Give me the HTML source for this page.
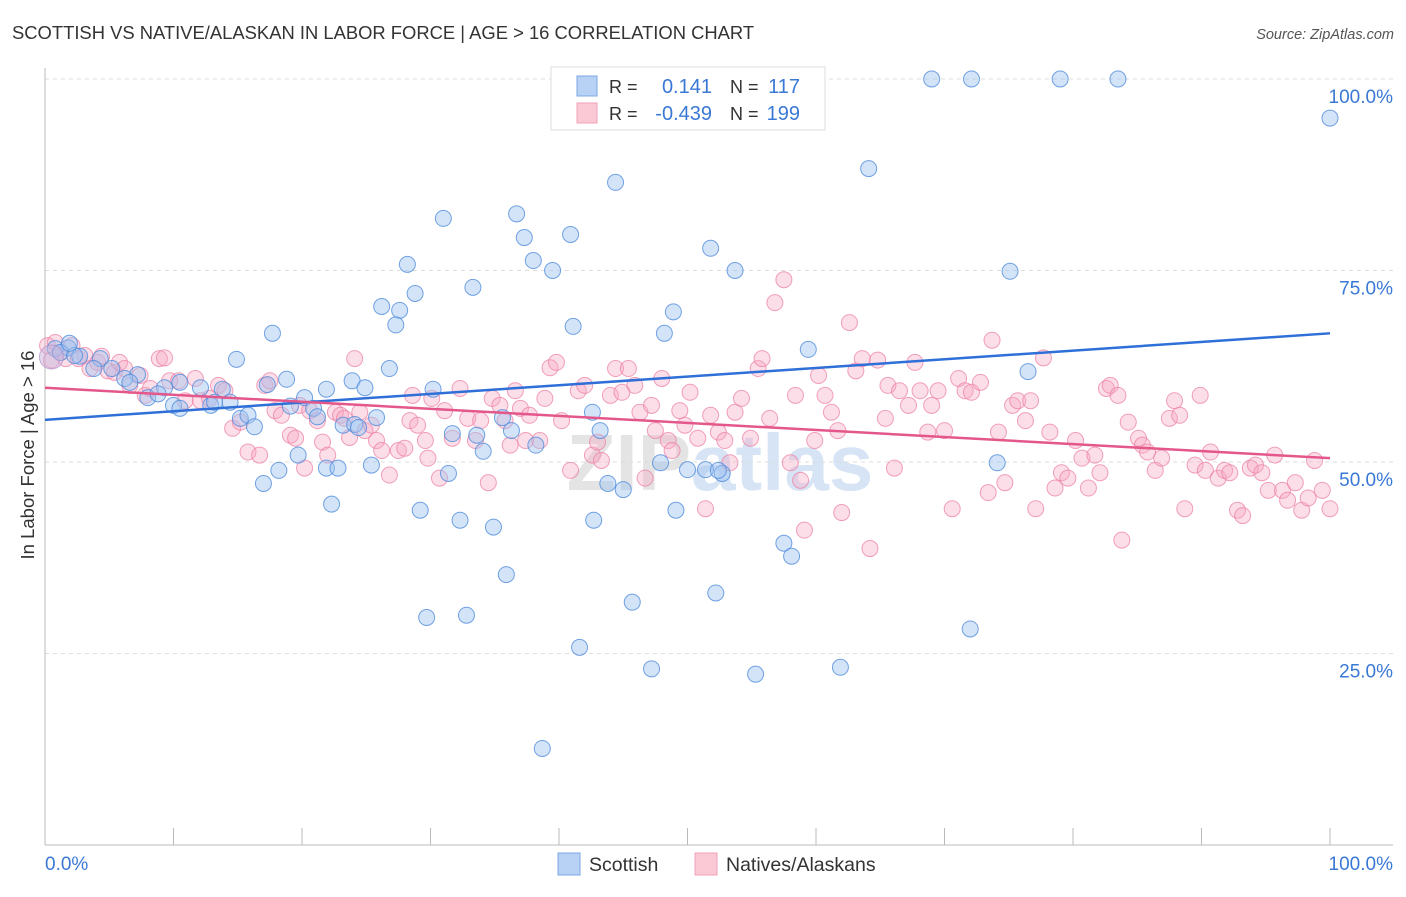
<!DOCTYPE html>
<html><head><meta charset="utf-8"><style>
body{margin:0;background:#fff;}
svg text{font-family:"Liberation Sans",sans-serif;}
</style></head><body>
<svg id="chart" width="1406" height="892" xmlns="http://www.w3.org/2000/svg">
<text x="12" y="39" font-size="18.4" fill="#333">SCOTTISH VS NATIVE/ALASKAN IN LABOR FORCE | AGE &gt; 16 CORRELATION CHART</text>
<text x="1394" y="39" font-size="14.5" fill="#555" font-style="italic" text-anchor="end">Source: ZipAtlas.com</text>
<text x="720" y="490" font-size="80" fill="#e4e4e4" text-anchor="middle" font-weight="bold">ZIP<tspan fill="#d6e4f5">atlas</tspan></text>
<g id="grid"></g>
<g id="axes"></g>
<g id="pts"></g>
<g id="trends"></g>
<text transform="translate(34,455) rotate(-90)" font-size="18.5" fill="#333" text-anchor="middle">In Labor Force | Age &gt; 16</text>
<g>
<rect x="551" y="67" width="274" height="63" fill="#fff" stroke="#ddd"/>
<rect x="577" y="76" width="20" height="20" fill="#b8d2f5" stroke="#7aa7e3"/>
<rect x="577" y="103" width="20" height="20" fill="#fbc8d6" stroke="#f0a3ba"/>
<text x="609" y="93" font-size="18" fill="#333">R =</text>
<text x="712" y="93" font-size="20" fill="#3a78d6" text-anchor="end">0.141</text>
<text x="730" y="93" font-size="18" fill="#333">N =</text>
<text x="800" y="93" font-size="20" fill="#3a78d6" text-anchor="end">117</text>
<text x="609" y="120" font-size="18" fill="#333">R =</text>
<text x="712" y="120" font-size="20" fill="#3a78d6" text-anchor="end">-0.439</text>
<text x="730" y="120" font-size="18" fill="#333">N =</text>
<text x="800" y="120" font-size="20" fill="#3a78d6" text-anchor="end">199</text>
</g>
<g>
<rect x="558" y="853" width="22" height="22" fill="#b8d2f5" stroke="#7aa7e3"/>
<text x="589" y="871" font-size="19.5" fill="#333">Scottish</text>
<rect x="695" y="853" width="22" height="22" fill="#fbc8d6" stroke="#f0a3ba"/>
<text x="726" y="871" font-size="19.5" fill="#333">Natives/Alaskans</text>
</g>
<text x="45" y="870" font-size="19" fill="#3a78d6">0.0%</text>
<text x="1393" y="870" font-size="19" fill="#3a78d6" text-anchor="end">100.0%</text>
</svg>
<script>
const yTicks=[100,75,50,25];
const yTickLabels=["100.0%","75.0%","50.0%","25.0%"];
const blueX=[45.4,58.8,69.0,72.1,79.0,83.5,100,64.1,44.4,31.0,36.7,40.9,37.3,51.8,38.0,39.5,28.2,53.7,75.1,33.3,28.8,26.2,27.6,27.3,48.9,41.1,48.2,17.7,59.4,14.9,76.5,26.8,23.9,18.8,17.3,24.9,21.9,30.2,20.2,12.1,13.8,9.3,10.5,7.2,6.2,6.6,4.3,5.2,3.8,1.8,0.8,2.7,1.2,2.3,1.9,8.0,8.8,10.0,10.5,12.9,13.2,15.2,15.8,16.3,14.4,19.1,20.9,21.2,23.2,24.1,25.8,24.4,31.7,33.6,35.6,36.3,38.2,34.1,42.6,43.2,21.9,19.7,18.2,17.0,22.8,25.4,31.4,29.2,32.3,34.9,22.3,42.7,43.8,45.0,47.9,50.0,51.4,52.7,49.1,52.4,74.1,57.5,58.1,35.9,29.7,32.8,45.7,52.2,41.6,47.2,55.3,61.9,72.0,38.7];
const blueY=[100,100,100,100,100,100,94.9,88.3,86.5,81.8,82.4,79.7,79.3,77.9,76.3,75.0,75.8,75.0,74.9,72.8,72.0,70.3,69.8,67.9,69.6,67.7,66.8,66.8,64.7,63.4,61.8,62.2,60.6,60.8,60.1,59.7,59.5,59.5,58.4,59.7,59.5,59.7,60.4,61.4,60.9,60.4,63.5,62.2,62.2,64.9,64.8,63.8,64.3,63.9,65.5,58.4,58.9,57.4,57.0,57.4,57.8,55.7,56.1,54.6,57.8,57.3,57.0,55.9,54.8,54.9,55.8,54.5,53.7,53.5,55.8,54.1,52.2,51.4,56.5,54.1,49.2,50.9,48.9,47.2,49.2,49.6,48.5,43.7,42.4,41.5,44.5,42.4,47.2,46.4,49.9,49.0,49.0,48.5,43.7,48.9,49.9,39.4,37.7,35.3,29.7,30.0,31.7,32.9,25.8,23.0,22.3,23.2,28.2,12.6];
const pinkX=[0.2,0.5,0.8,1.2,1.6,2.1,2.6,3.1,3.5,4.1,4.4,4.9,5.4,5.8,6.2,6.6,7.4,7.8,8.2,8.9,9.3,9.7,10.4,10.9,11.7,12.1,12.8,13.5,14.0,14.6,15.2,15.8,16.7,17.1,17.5,17.9,18.4,19.1,19.5,19.8,20.2,20.6,21.2,21.6,22.0,22.6,23.0,23.3,23.7,24.1,24.5,24.9,25.4,25.8,26.2,26.8,27.5,28.0,28.4,28.6,29.0,29.6,29.8,30.1,30.7,31.1,31.7,32.3,32.9,33.5,33.9,34.5,34.8,35.4,35.8,36.2,36.6,37.0,37.4,37.7,38.5,38.9,39.3,39.8,40.2,40.9,41.5,42.0,42.6,43.0,43.3,44.0,44.4,44.9,45.4,45.9,46.3,46.7,47.2,47.5,48.0,48.5,48.8,49.4,49.8,50.2,50.8,51.4,51.8,52.4,52.9,53.3,53.7,54.2,54.9,55.5,55.8,56.4,56.8,57.5,58.0,58.4,58.8,59.1,59.9,60.2,60.7,61.2,61.7,62.0,62.6,63.1,63.6,64.2,64.8,65.4,65.6,66.1,66.5,67.2,67.7,68.1,68.7,69.0,69.5,70.0,70.6,71.1,71.6,72.1,72.8,73.4,73.7,74.2,74.7,75.3,75.7,76.3,76.7,77.1,77.7,78.2,78.6,79.1,79.6,80.2,80.7,81.2,81.7,82.1,82.6,82.9,83.5,83.8,84.3,85.1,85.4,85.8,86.4,86.9,87.5,87.9,88.3,88.7,89.5,89.9,90.3,90.7,91.3,91.8,92.2,92.8,93.2,93.8,94.2,94.7,95.2,95.7,96.3,96.7,97.3,97.8,98.3,98.8,99.4,100];
const pinkY=[65.2,63.3,65.6,64.3,63.5,65.2,63.5,63.9,62.2,63.0,63.8,61.9,61.7,63.0,62.2,60.0,61.3,58.7,59.6,63.5,63.6,60.6,60.6,58.0,60.9,58.0,58.3,60.0,59.3,54.4,55.2,51.3,50.9,60.0,60.6,56.7,56.1,53.5,53.1,57.4,49.2,56.7,55.4,52.6,50.9,56.5,56.1,55.7,53.2,63.5,56.5,54.1,54.8,52.8,51.5,48.3,51.5,51.8,55.4,58.7,54.8,52.8,50.5,58.3,47.9,56.7,53.1,59.6,55.7,52.8,55.4,47.3,58.3,57.4,55.4,52.2,59.3,57.0,52.8,56.1,52.8,58.3,62.3,63.0,55.4,48.9,59.3,60.0,50.9,52.6,50.2,58.7,62.2,59.1,62.2,60.0,56.5,47.9,57.4,54.1,60.9,52.8,51.5,56.7,54.8,59.1,53.1,43.9,56.1,53.9,52.8,49.9,56.5,58.3,53.1,62.2,63.5,55.7,70.8,73.8,49.9,58.7,47.6,41.1,52.8,61.3,58.7,56.5,54.1,43.4,68.2,61.9,63.5,38.7,63.3,55.7,60.0,49.2,59.3,57.4,63.0,59.3,53.9,57.4,59.3,54.1,43.9,60.9,59.3,59.1,60.4,46.0,65.9,53.9,47.3,57.4,58.0,55.4,58.0,43.9,63.6,53.9,46.6,48.6,47.9,52.8,50.5,46.6,50.9,48.6,59.6,60.0,58.7,39.8,55.2,53.1,52.2,51.3,48.9,50.5,55.7,58.0,56.1,43.9,49.6,58.7,48.9,51.3,47.9,48.9,48.6,43.7,43.0,49.2,49.6,48.6,46.3,50.9,46.3,45.0,47.3,43.7,45.3,50.2,46.3,43.9];
const blueTrend=[55.5,66.8];
const pinkTrend=[59.7,50.5];

const NS="http://www.w3.org/2000/svg";
const X0=45,X1=1330,Y0=845,Y100=79;
const sx=v=>X0+(X1-X0)*v/100;
const sy=v=>Y0-(Y0-Y100)*v/100;
function mk(tag,attrs,parent){const e=document.createElementNS(NS,tag);for(const k in attrs)e.setAttribute(k,attrs[k]);parent.appendChild(e);return e;}
const grid=document.getElementById('grid'),axes=document.getElementById('axes'),pts=document.getElementById('pts'),tr=document.getElementById('trends');
yTicks.forEach((t,i)=>{
  const l=mk('line',{x1:X0,x2:1393,y1:sy(t),y2:sy(t),stroke:'#ddd','stroke-dasharray':'4,4'},grid);
  
  
  const tx=mk('text',{x:1393,y:sy(t)+24,'font-size':19,fill:'#3a78d6','text-anchor':'end'},grid);
  tx.textContent=yTickLabels[i];
  
  
});
const ya=mk('line',{x1:X0,x2:X0,y1:68,y2:Y0,stroke:'#bbb'},axes);


const xa=mk('line',{x1:X0,x2:1393,y1:Y0,y2:Y0,stroke:'#bbb'},axes);


for(let k=0;k<=10;k++){
  const t=mk('line',{x1:sx(k*10),x2:sx(k*10),y1:828,y2:Y0,stroke:'#bbb'},axes);
  
  
}
pinkX.forEach((x,i)=>{
  const c=mk('circle',{cx:sx(x),cy:sy(pinkY[i]),r:8,fill:'rgba(246,168,194,0.38)',stroke:'rgba(236,130,166,0.75)','stroke-width':1},pts);
  
  
});
blueX.forEach((x,i)=>{
  const c=mk('circle',{cx:sx(x),cy:sy(blueY[i]),r:8,fill:'rgba(160,196,240,0.45)',stroke:'rgba(80,140,220,0.8)','stroke-width':1},pts);
  
  
});
const big=mk('circle',{cx:sx(0.5),cy:sy(63.7),r:12,fill:'rgba(200,180,220,0.5)',stroke:'rgba(180,140,200,0.7)'},pts);


const bl=mk('line',{x1:sx(0),x2:sx(100),y1:sy(blueTrend[0]),y2:sy(blueTrend[1]),stroke:'#2f6fd8','stroke-width':2.5},tr);


const pl=mk('line',{x1:sx(0),x2:sx(100),y1:sy(pinkTrend[0]),y2:sy(pinkTrend[1]),stroke:'#e4578a','stroke-width':2.5},tr);


</script>
</body></html>
